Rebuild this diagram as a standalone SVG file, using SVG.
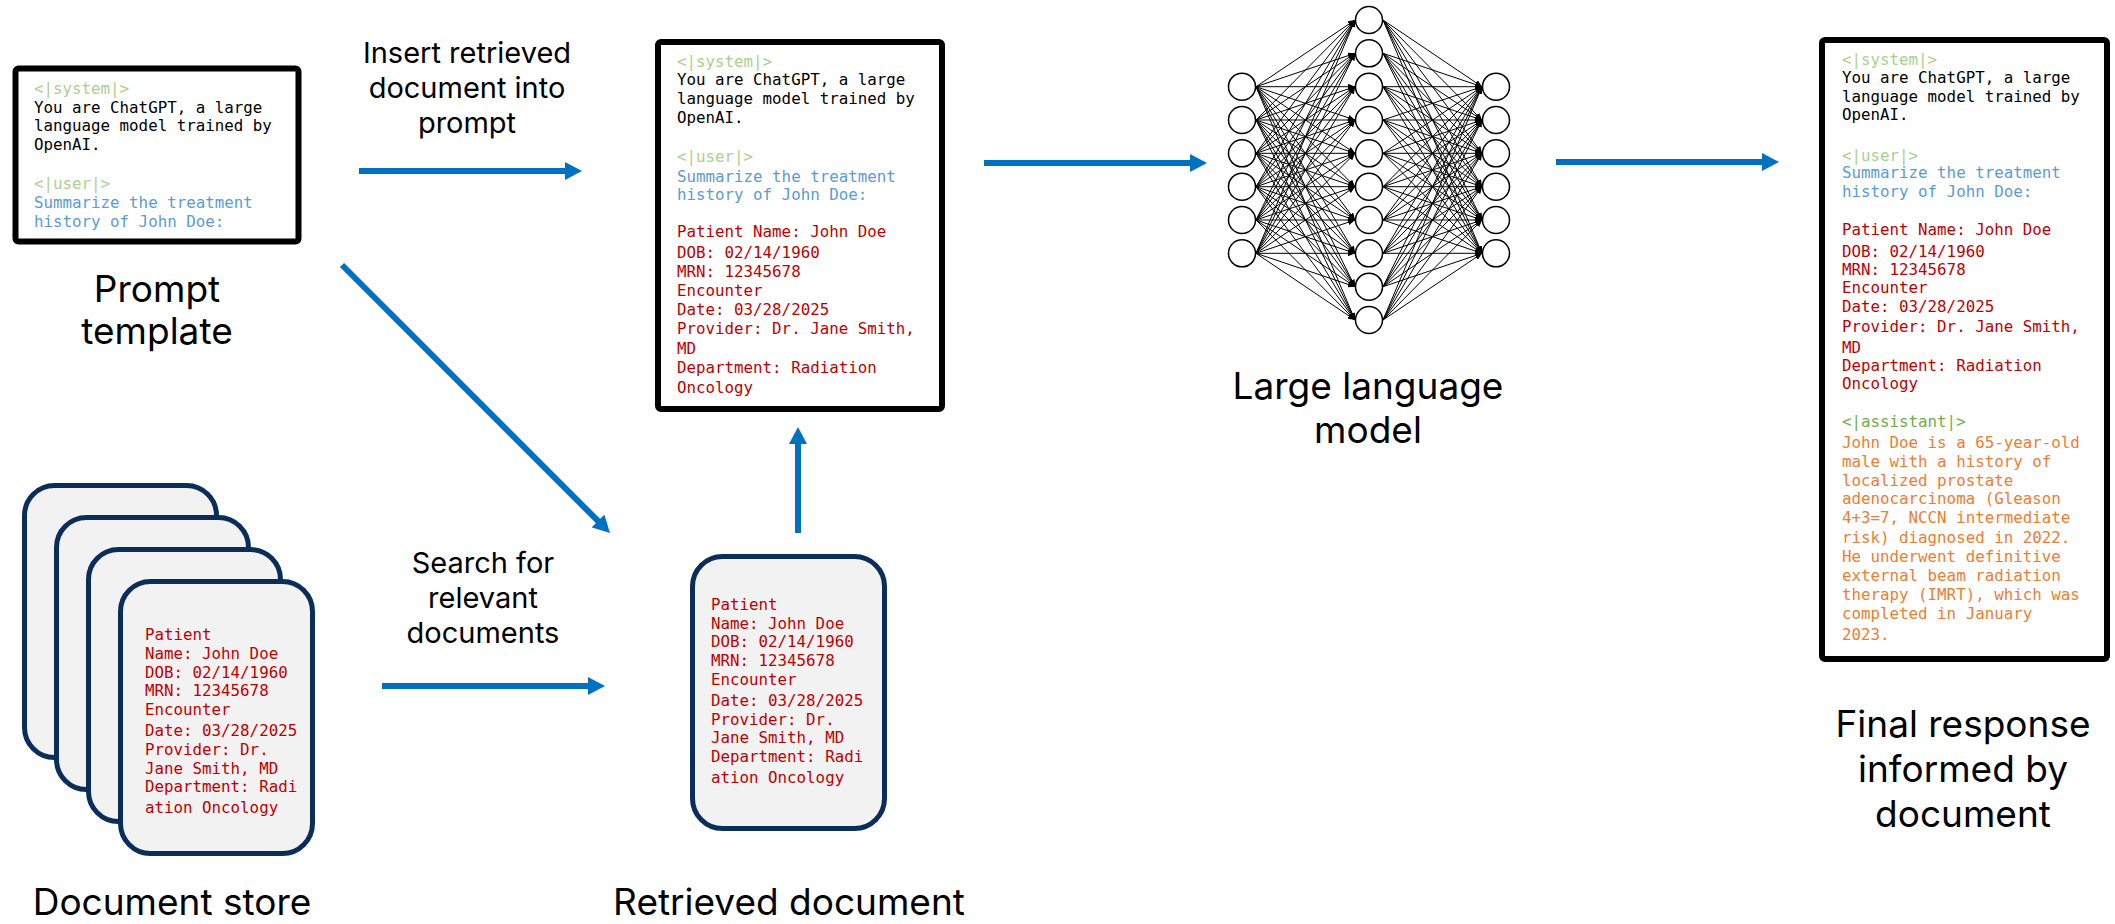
<svg xmlns="http://www.w3.org/2000/svg" width="2115" height="924" viewBox="0 0 2115 924">
  <style>
    .frame { fill: #ffffff; stroke: #000000; stroke-width: 6; }
    .card { fill: #f2f2f2; stroke: #0b2e59; stroke-width: 5; }
    .mono { font-family: "DejaVu Sans Mono", "Liberation Mono", monospace; font-size: 15.8px; }
    .tag { fill: #a9d18e; }
    .sys { fill: #000000; }
    .usr { fill: #5b9bd5; }
    .doc { fill: #c00000; }
    .atag { fill: #70ad47; }
    .resp { fill: #ed7d31; }
    .label { font-family: Inter, "Open Sans", sans-serif; font-size: 37px; fill: #000000; text-anchor: middle; }
    .elabel { font-family: Inter, "Open Sans", sans-serif; font-size: 29px; fill: #000000; text-anchor: middle; }
    .flow { stroke: #0070c0; stroke-width: 6; fill: none; marker-end: url(#arrowBlue); }
    .nn path { stroke: #000000; stroke-width: 1; fill: none; marker-end: url(#arrowBlack); }
    .nn circle { fill: #ffffff; stroke: #000000; stroke-width: 1.5; }
  </style>
  <defs>
    <marker id="arrowBlue" viewBox="0 0 17 18" markerWidth="17" markerHeight="18" refX="2" refY="9" orient="auto" markerUnits="userSpaceOnUse">
      <path d="M0,0 L17,9 L0,18 Z" fill="#0070c0"/>
    </marker>
    <marker id="arrowBlack" viewBox="0 0 7 6" markerWidth="7" markerHeight="6" refX="7" refY="3" orient="auto" markerUnits="userSpaceOnUse">
      <path d="M0,0 L7,3 L0,6 Z" fill="#000000"/>
    </marker>
  </defs>

  <!-- Prompt template -->
  <g id="prompt-template">
    <rect class="frame" x="15.5" y="68.5" width="283" height="173" rx="3"/>
    <text class="mono" x="34">
      <tspan class="tag" x="34" y="94">&lt;|system|&gt;</tspan>
      <tspan class="sys" x="34" y="112.5">You are ChatGPT, a large</tspan>
      <tspan class="sys" x="34" y="131">language model trained by</tspan>
      <tspan class="sys" x="34" y="149.5">OpenAI.</tspan>
      <tspan class="tag" x="34" y="189">&lt;|user|&gt;</tspan>
      <tspan class="usr" x="34" y="208">Summarize the treatment</tspan>
      <tspan class="usr" x="34" y="227">history of John Doe:</tspan>
    </text>
    <text class="label" x="157" y="302">Prompt</text>
    <text class="label" x="157" y="344">template</text>
  </g>

  <!-- Augmented prompt -->
  <g id="augmented-prompt">
    <rect class="frame" x="658" y="42" width="284" height="367" rx="3"/>
    <text class="mono">
      <tspan class="tag" x="677" y="67">&lt;|system|&gt;</tspan>
      <tspan class="sys" x="677" y="85">You are ChatGPT, a large</tspan>
      <tspan class="sys" x="677" y="104">language model trained by</tspan>
      <tspan class="sys" x="677" y="123">OpenAI.</tspan>
      <tspan class="tag" x="677" y="162">&lt;|user|&gt;</tspan>
      <tspan class="usr" x="677" y="182">Summarize the treatment</tspan>
      <tspan class="usr" x="677" y="200">history of John Doe:</tspan>
      <tspan class="doc" x="677" y="237">Patient Name: John Doe</tspan>
      <tspan class="doc" x="677" y="258">DOB: 02/14/1960</tspan>
      <tspan class="doc" x="677" y="277">MRN: 12345678</tspan>
      <tspan class="doc" x="677" y="296">Encounter</tspan>
      <tspan class="doc" x="677" y="315">Date: 03/28/2025</tspan>
      <tspan class="doc" x="677" y="334">Provider: Dr. Jane Smith,</tspan>
      <tspan class="doc" x="677" y="354">MD</tspan>
      <tspan class="doc" x="677" y="373">Department: Radiation</tspan>
      <tspan class="doc" x="677" y="393">Oncology</tspan>
    </text>
  </g>

  <!-- Large language model -->
  <g id="llm" class="nn">
    <path d="M1256 86.7L1355 20"/><path d="M1256 86.7L1355 53.3"/><path d="M1256 86.7L1355 86.7"/><path d="M1256 86.7L1355 120"/><path d="M1256 86.7L1355 153.3"/>
    <path d="M1256 86.7L1355 186.7"/><path d="M1256 86.7L1355 220"/><path d="M1256 86.7L1355 253.3"/><path d="M1256 86.7L1355 286.7"/><path d="M1256 86.7L1355 320"/>
    <path d="M1256 120L1355 20"/><path d="M1256 120L1355 53.3"/><path d="M1256 120L1355 86.7"/><path d="M1256 120L1355 120"/><path d="M1256 120L1355 153.3"/>
    <path d="M1256 120L1355 186.7"/><path d="M1256 120L1355 220"/><path d="M1256 120L1355 253.3"/><path d="M1256 120L1355 286.7"/><path d="M1256 120L1355 320"/>
    <path d="M1256 153.3L1355 20"/><path d="M1256 153.3L1355 53.3"/><path d="M1256 153.3L1355 86.7"/><path d="M1256 153.3L1355 120"/><path d="M1256 153.3L1355 153.3"/>
    <path d="M1256 153.3L1355 186.7"/><path d="M1256 153.3L1355 220"/><path d="M1256 153.3L1355 253.3"/><path d="M1256 153.3L1355 286.7"/><path d="M1256 153.3L1355 320"/>
    <path d="M1256 186.7L1355 20"/><path d="M1256 186.7L1355 53.3"/><path d="M1256 186.7L1355 86.7"/><path d="M1256 186.7L1355 120"/><path d="M1256 186.7L1355 153.3"/>
    <path d="M1256 186.7L1355 186.7"/><path d="M1256 186.7L1355 220"/><path d="M1256 186.7L1355 253.3"/><path d="M1256 186.7L1355 286.7"/><path d="M1256 186.7L1355 320"/>
    <path d="M1256 220L1355 20"/><path d="M1256 220L1355 53.3"/><path d="M1256 220L1355 86.7"/><path d="M1256 220L1355 120"/><path d="M1256 220L1355 153.3"/>
    <path d="M1256 220L1355 186.7"/><path d="M1256 220L1355 220"/><path d="M1256 220L1355 253.3"/><path d="M1256 220L1355 286.7"/><path d="M1256 220L1355 320"/>
    <path d="M1256 253.3L1355 20"/><path d="M1256 253.3L1355 53.3"/><path d="M1256 253.3L1355 86.7"/><path d="M1256 253.3L1355 120"/><path d="M1256 253.3L1355 153.3"/>
    <path d="M1256 253.3L1355 186.7"/><path d="M1256 253.3L1355 220"/><path d="M1256 253.3L1355 253.3"/><path d="M1256 253.3L1355 286.7"/><path d="M1256 253.3L1355 320"/>

    <path d="M1383 20L1482 86.7"/><path d="M1383 20L1482 120"/><path d="M1383 20L1482 153.3"/><path d="M1383 20L1482 186.7"/><path d="M1383 20L1482 220"/><path d="M1383 20L1482 253.3"/>
    <path d="M1383 53.3L1482 86.7"/><path d="M1383 53.3L1482 120"/><path d="M1383 53.3L1482 153.3"/><path d="M1383 53.3L1482 186.7"/><path d="M1383 53.3L1482 220"/><path d="M1383 53.3L1482 253.3"/>
    <path d="M1383 86.7L1482 86.7"/><path d="M1383 86.7L1482 120"/><path d="M1383 86.7L1482 153.3"/><path d="M1383 86.7L1482 186.7"/><path d="M1383 86.7L1482 220"/><path d="M1383 86.7L1482 253.3"/>
    <path d="M1383 120L1482 86.7"/><path d="M1383 120L1482 120"/><path d="M1383 120L1482 153.3"/><path d="M1383 120L1482 186.7"/><path d="M1383 120L1482 220"/><path d="M1383 120L1482 253.3"/>
    <path d="M1383 153.3L1482 86.7"/><path d="M1383 153.3L1482 120"/><path d="M1383 153.3L1482 153.3"/><path d="M1383 153.3L1482 186.7"/><path d="M1383 153.3L1482 220"/><path d="M1383 153.3L1482 253.3"/>
    <path d="M1383 186.7L1482 86.7"/><path d="M1383 186.7L1482 120"/><path d="M1383 186.7L1482 153.3"/><path d="M1383 186.7L1482 186.7"/><path d="M1383 186.7L1482 220"/><path d="M1383 186.7L1482 253.3"/>
    <path d="M1383 220L1482 86.7"/><path d="M1383 220L1482 120"/><path d="M1383 220L1482 153.3"/><path d="M1383 220L1482 186.7"/><path d="M1383 220L1482 220"/><path d="M1383 220L1482 253.3"/>
    <path d="M1383 253.3L1482 86.7"/><path d="M1383 253.3L1482 120"/><path d="M1383 253.3L1482 153.3"/><path d="M1383 253.3L1482 186.7"/><path d="M1383 253.3L1482 220"/><path d="M1383 253.3L1482 253.3"/>
    <path d="M1383 286.7L1482 86.7"/><path d="M1383 286.7L1482 120"/><path d="M1383 286.7L1482 153.3"/><path d="M1383 286.7L1482 186.7"/><path d="M1383 286.7L1482 220"/><path d="M1383 286.7L1482 253.3"/>
    <path d="M1383 320L1482 86.7"/><path d="M1383 320L1482 120"/><path d="M1383 320L1482 153.3"/><path d="M1383 320L1482 186.7"/><path d="M1383 320L1482 220"/><path d="M1383 320L1482 253.3"/>

    <circle cx="1242" cy="86.7" r="13.5"/><circle cx="1242" cy="120" r="13.5"/><circle cx="1242" cy="153.3" r="13.5"/>
    <circle cx="1242" cy="186.7" r="13.5"/><circle cx="1242" cy="220" r="13.5"/><circle cx="1242" cy="253.3" r="13.5"/>

    <circle cx="1369" cy="20" r="13.5"/><circle cx="1369" cy="53.3" r="13.5"/><circle cx="1369" cy="86.7" r="13.5"/>
    <circle cx="1369" cy="120" r="13.5"/><circle cx="1369" cy="153.3" r="13.5"/><circle cx="1369" cy="186.7" r="13.5"/>
    <circle cx="1369" cy="220" r="13.5"/><circle cx="1369" cy="253.3" r="13.5"/><circle cx="1369" cy="286.7" r="13.5"/>
    <circle cx="1369" cy="320" r="13.5"/>

    <circle cx="1496" cy="86.7" r="13.5"/><circle cx="1496" cy="120" r="13.5"/><circle cx="1496" cy="153.3" r="13.5"/>
    <circle cx="1496" cy="186.7" r="13.5"/><circle cx="1496" cy="220" r="13.5"/><circle cx="1496" cy="253.3" r="13.5"/>

    <text class="label" x="1368" y="399">Large language</text>
    <text class="label" x="1368" y="443">model</text>
  </g>

  <!-- Final response -->
  <g id="final-response">
    <rect class="frame" x="1822" y="40" width="285" height="619" rx="3"/>
    <text class="mono">
      <tspan class="tag" x="1842" y="65">&lt;|system|&gt;</tspan>
      <tspan class="sys" x="1842" y="83">You are ChatGPT, a large</tspan>
      <tspan class="sys" x="1842" y="102">language model trained by</tspan>
      <tspan class="sys" x="1842" y="120">OpenAI.</tspan>
      <tspan class="tag" x="1842" y="161">&lt;|user|&gt;</tspan>
      <tspan class="usr" x="1842" y="178">Summarize the treatment</tspan>
      <tspan class="usr" x="1842" y="197">history of John Doe:</tspan>
      <tspan class="doc" x="1842" y="235">Patient Name: John Doe</tspan>
      <tspan class="doc" x="1842" y="257">DOB: 02/14/1960</tspan>
      <tspan class="doc" x="1842" y="275">MRN: 12345678</tspan>
      <tspan class="doc" x="1842" y="293">Encounter</tspan>
      <tspan class="doc" x="1842" y="312">Date: 03/28/2025</tspan>
      <tspan class="doc" x="1842" y="332">Provider: Dr. Jane Smith,</tspan>
      <tspan class="doc" x="1842" y="353">MD</tspan>
      <tspan class="doc" x="1842" y="371">Department: Radiation</tspan>
      <tspan class="doc" x="1842" y="389">Oncology</tspan>
      <tspan class="atag" x="1842" y="427">&lt;|assistant|&gt;</tspan>
      <tspan class="resp" x="1842" y="448">John Doe is a 65-year-old</tspan>
      <tspan class="resp" x="1842" y="467">male with a history of</tspan>
      <tspan class="resp" x="1842" y="486">localized prostate</tspan>
      <tspan class="resp" x="1842" y="504">adenocarcinoma (Gleason</tspan>
      <tspan class="resp" x="1842" y="523">4+3=7, NCCN intermediate</tspan>
      <tspan class="resp" x="1842" y="543">risk) diagnosed in 2022.</tspan>
      <tspan class="resp" x="1842" y="562">He underwent definitive</tspan>
      <tspan class="resp" x="1842" y="581">external beam radiation</tspan>
      <tspan class="resp" x="1842" y="600">therapy (IMRT), which was</tspan>
      <tspan class="resp" x="1842" y="619">completed in January</tspan>
      <tspan class="resp" x="1842" y="640">2023.</tspan>
    </text>
    <text class="label" x="1963" y="737">Final response</text>
    <text class="label" x="1963" y="782">informed by</text>
    <text class="label" x="1963" y="827">document</text>
  </g>

  <!-- Document store: stacked cards -->
  <g id="document-store">
    <rect class="card" x="24.5" y="485.5" width="192" height="272" rx="30"/>
    <rect class="card" x="56.5" y="517.5" width="192" height="272" rx="30"/>
    <rect class="card" x="88.5" y="549.5" width="192" height="272" rx="30"/>
    <rect class="card" x="120.5" y="581.5" width="192" height="272" rx="30"/>
    <text class="mono doc">
      <tspan x="145" y="640">Patient</tspan>
      <tspan x="145" y="659">Name: John Doe</tspan>
      <tspan x="145" y="678">DOB: 02/14/1960</tspan>
      <tspan x="145" y="696">MRN: 12345678</tspan>
      <tspan x="145" y="715">Encounter</tspan>
      <tspan x="145" y="736">Date: 03/28/2025</tspan>
      <tspan x="145" y="755">Provider: Dr.</tspan>
      <tspan x="145" y="774">Jane Smith, MD</tspan>
      <tspan x="145" y="792">Department: Radi</tspan>
      <tspan x="145" y="813">ation Oncology</tspan>
    </text>
    <text class="label" x="172" y="915">Document store</text>
  </g>

  <!-- Retrieved document -->
  <g id="retrieved-document">
    <rect class="card" x="692.5" y="556.5" width="192" height="272" rx="30"/>
    <text class="mono doc">
      <tspan x="711" y="610">Patient</tspan>
      <tspan x="711" y="629">Name: John Doe</tspan>
      <tspan x="711" y="647">DOB: 02/14/1960</tspan>
      <tspan x="711" y="666">MRN: 12345678</tspan>
      <tspan x="711" y="685">Encounter</tspan>
      <tspan x="711" y="706">Date: 03/28/2025</tspan>
      <tspan x="711" y="725">Provider: Dr.</tspan>
      <tspan x="711" y="743">Jane Smith, MD</tspan>
      <tspan x="711" y="762">Department: Radi</tspan>
      <tspan x="711" y="783">ation Oncology</tspan>
    </text>
    <text class="label" x="789" y="915">Retrieved document</text>
  </g>

  <!-- Connectors -->
  <g id="connectors">
    <path class="flow" d="M359 171 L567 171"/>
    <path class="flow" d="M342 265 L599.4 522.4"/>
    <path class="flow" d="M382 686 L590 686"/>
    <path class="flow" d="M798 533 L798 442"/>
    <path class="flow" d="M984 163 L1192 163"/>
    <path class="flow" d="M1556 162 L1764 162"/>
    <text class="elabel" x="467" y="63">Insert retrieved</text>
    <text class="elabel" x="467" y="98">document into</text>
    <text class="elabel" x="467" y="133">prompt</text>
    <text class="elabel" x="483" y="573">Search for</text>
    <text class="elabel" x="483" y="608">relevant</text>
    <text class="elabel" x="483" y="643">documents</text>
  </g>
</svg>
